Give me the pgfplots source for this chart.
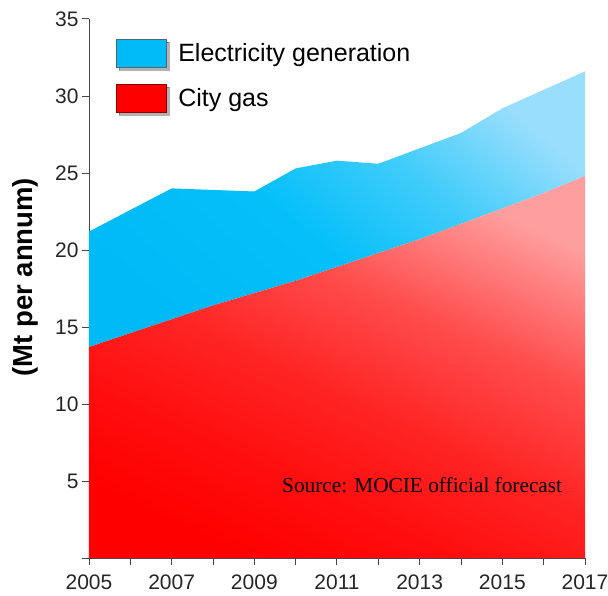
\documentclass[border=0pt]{standalone}
\usepackage{pgfplots}
\pgfplotsset{compat=1.18}
\usepackage{fontspec}
\setmainfont{Liberation Sans}
\newfontfamily\timesfont{Liberation Serif}
\definecolor{axisgray}{RGB}{70,70,70}
\definecolor{gasdark}{RGB}{255,0,0}
\definecolor{elecdark}{RGB}{0,187,247}
\pgfdeclareverticalshading{gasshade}{100bp}{
  rgb(0bp)=(1,0,0); rgb(25bp)=(1,0,0); rgb(35bp)=(1,0.05,0.05);
  rgb(47bp)=(1,0.14,0.14); rgb(60bp)=(1,0.30,0.30); rgb(75bp)=(1,0.62,0.62); rgb(100bp)=(1,0.62,0.62)}
\pgfdeclareverticalshading{elecshade}{100bp}{
  rgb(0bp)=(0,0.73,0.97); rgb(25bp)=(0,0.73,0.97); rgb(45bp)=(0.02,0.75,0.98);
  rgb(60bp)=(0.25,0.80,0.98); rgb(75bp)=(0.60,0.87,0.99); rgb(100bp)=(0.60,0.87,0.99)}
\pgfplotstableread{
year gas elec
2005 13.7 7.5
2006 14.6 8.0
2007 15.5 8.5
2008 16.4 7.5
2009 17.2 6.6
2010 18.0 7.3
2011 18.9 6.9
2012 19.8 5.8
2013 20.7 5.9
2014 21.7 5.9
2015 22.7 6.5
2016 23.7 6.7
2017 24.8 6.8
}\datatable
\begin{document}
\begin{tikzpicture}
\begin{axis}[
  scale only axis,
  width=496bp, height=539bp,
  xmin=2005, xmax=2017, ymin=0, ymax=35,
  stack plots=y,
  axis x line*=bottom, axis y line*=left,
  axis line style={axisgray, line width=1pt},
  every tick/.style={axisgray, line width=1pt},
  tick align=outside,
  major tick length=7bp, minor tick length=7bp,
  xtick={2005,2007,...,2017},
  minor xtick={2006,2008,...,2016},
  ytick={5,10,...,35},
  extra y ticks={0}, extra y tick labels={},
  /pgf/number format/1000 sep={},
  /pgf/number format/assume math mode=true,
  tick label style={font=\fontsize{21bp}{25bp}\selectfont, text=black!85},
  xticklabel style={yshift=-6bp},
  ylabel={(Mt per annum)},
  ylabel style={at={(axis description cs:-0.129,0.521)}, anchor=center, font=\fontsize{27.5bp}{32bp}\selectfont\bfseries},
  legend style={draw=none, fill=none, at={(0.0544,0.963)}, anchor=north west,
    font=\fontsize{25bp}{30bp}\selectfont, inner sep=0pt, row sep=14bp, column sep=9bp,
    nodes={inner sep=0pt}},
  legend cell align=left,
  clip=false,
]
\addplot[forget plot, draw=none, shade, shading=gasshade, shading angle=-25]
  table[x=year, y=gas] {\datatable} \closedcycle;
\addplot[forget plot, draw=none, shade, shading=elecshade, shading angle=-40]
  table[x=year, y=elec] {\datatable} \closedcycle;
\addlegendimage{legend image code/.code={
    \fill[black, opacity=0.3] (2.5bp,-16.5bp) rectangle (52.5bp,11.5bp);
    \draw[fill=elecdark, draw=cyan!40!black, line width=0.8pt] (0bp,-14bp) rectangle (50bp,14bp);
  }}
\addlegendentry{Electricity generation}
\addlegendimage{legend image code/.code={
    \fill[black, opacity=0.3] (2.5bp,-16.5bp) rectangle (52.5bp,11.5bp);
    \draw[fill=gasdark, draw=red!55!black, line width=0.8pt] (0bp,-14bp) rectangle (50bp,14bp);
  }}
\addlegendentry{City gas}
\coordinate (S) at (axis cs:2013.06,4.75);
\coordinate (O) at (rel axis cs:0,0);
\end{axis}
\node[font=\timesfont\fontsize{21.3bp}{25bp}\selectfont, anchor=center, text=black] at (S) {Source: MOCIE official forecast};
\pgfresetboundingbox
\useasboundingbox (O) ++(-89bp,-38bp) rectangle ++(608bp,596bp);
\end{tikzpicture}
\end{document}
